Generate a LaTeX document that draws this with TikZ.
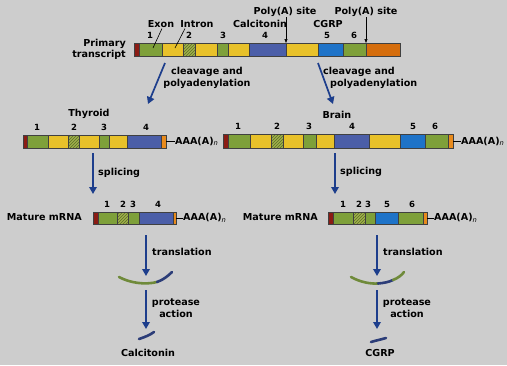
\documentclass[tikz,border=0pt]{standalone}
\usepackage{fontspec}
\setmainfont{DejaVu Sans}
\usetikzlibrary{arrows.meta,patterns}
\definecolor{bg}{RGB}{205,205,205}
\definecolor{capred}{RGB}{139,28,20}
\definecolor{exgreen}{RGB}{126,160,58}
\definecolor{hgreen}{RGB}{160,176,74}
\definecolor{hline}{RGB}{90,110,40}
\definecolor{yel}{RGB}{232,193,42}
\definecolor{slate}{RGB}{75,94,168}
\definecolor{bblue}{RGB}{30,115,200}
\definecolor{tailor}{RGB}{213,109,12}
\definecolor{capor}{RGB}{232,138,28}
\definecolor{navy}{RGB}{29,62,140}
\definecolor{pepgreen}{RGB}{111,138,58}
\definecolor{pepnavy}{RGB}{44,61,120}
\newcommand\myseg[3]{\path[#3] (#1,\ytop) rectangle (#2,\ybot);}
\begin{document}
\begin{tikzpicture}[x=1pt,y=-1pt,
  every node/.style={font=\bfseries\fontsize{9.6}{11.5}\selectfont, inner sep=0pt},
  num/.style={font=\bfseries\fontsize{8.5}{10}\selectfont},
  capR/.style={fill=capred},
  exG/.style={fill=exgreen},
  exH/.style={fill=hgreen, postaction={pattern=north east lines, pattern color=hline}},
  intY/.style={fill=yel},
  exS/.style={fill=slate},
  exB/.style={fill=bblue},
  capO/.style={fill=capor},
  tailO/.style={fill=tailor},
  segline/.style={draw=black!75, line width=0.5pt},
  navyarrow/.style={draw=navy, line width=1.7pt, -{Triangle[width=7.5pt,length=7pt]}},
  thinarrow/.style={draw=black, line width=0.6pt, -{Triangle[width=3pt,length=4pt]}},
  pointer/.style={draw=black, line width=0.6pt},
  pepG/.style={draw=pepgreen, line width=2.6pt, line cap=round},
  pepN/.style={draw=pepnavy, line width=2.6pt, line cap=round},
  polytail/.style={draw=black, line width=0.6pt}]
\fill[bg] (0,0) rectangle (507,365);
\useasboundingbox (0,0) rectangle (507,365);

% ---------- Primary transcript ----------
\def\ytop{43}\def\ybot{56}
\myseg{134}{139}{capR}\myseg{139}{162}{exG}\myseg{162}{183}{intY}
\myseg{183}{195}{exH}\myseg{195}{217}{intY}\myseg{217}{228}{exG}
\myseg{228}{249}{intY}\myseg{249}{286}{exS}\myseg{286}{318}{intY}
\myseg{318}{343}{exB}\myseg{343}{366}{exG}\myseg{366}{400}{tailO}
\foreach \x in {139,162,183,195,217,228,249,286,318,343,366}
  \draw[segline] (\x,\ytop) -- (\x,\ybot);
\draw[segline] (134,\ytop) rectangle (400,\ybot);

\node[anchor=east, align=right] (prim) at (126,49.5) {Primary\\transcript};
\node (exon) at (161,24) {Exon};
\node (intron) at (197,24) {Intron};
\node[num] (p1) at (150,35) {1};
\node[num] (p2) at (189,35) {2};
\node[num] (p3) at (223,35) {3};
\node[num] (p4) at (265,35) {4};
\node[num] (p5) at (327,35) {5};
\node[num] (p6) at (354,35) {6};
\node (calc) at (260,24) {Calcitonin};
\node (cgrp) at (328,24) {CGRP};
\node (pa1) at (285,12) {Poly(A) site};
\node (pa2) at (366,12) {Poly(A) site};
\coordinate (exA) at (162,28.5); \coordinate (exB) at (153,48);
\coordinate (inA) at (185,28.5); \coordinate (inB) at (175,48);
\draw[pointer] (exA) -- (exB);
\draw[pointer] (inA) -- (inB);
\coordinate (pa1a) at (286,17); \coordinate (pa1b) at (286,43);
\coordinate (pa2a) at (366,17); \coordinate (pa2b) at (366,43);
\draw[thinarrow] (pa1a) -- (pa1b);
\draw[thinarrow] (pa2a) -- (pa2b);

% cleavage arrows
\coordinate (clLa) at (165,63); \coordinate (clLb) at (148,104);
\coordinate (clRa) at (318,63); \coordinate (clRb) at (333,104);
\draw[navyarrow] (clLa) -- (clLb);
\draw[navyarrow] (clRa) -- (clRb);
\node[align=center] (clL) at (207,78) {cleavage and\\polyadenylation};
\node[align=left, anchor=west] (clR) at (323,78) {cleavage and\\\hspace*{7pt}polyadenylation};

% ---------- Thyroid ----------
\node (thy) at (89,114) {Thyroid};
\def\ytop{135}\def\ybot{148}
\myseg{23}{27}{capR}\myseg{27}{48}{exG}\myseg{48}{68}{intY}
\myseg{68}{79}{exH}\myseg{79}{99}{intY}\myseg{99}{109}{exG}
\myseg{109}{127}{intY}\myseg{127}{161}{exS}\myseg{161}{166}{capO}
\foreach \x in {27,48,68,79,99,109,127,161}
  \draw[segline] (\x,\ytop) -- (\x,\ybot);
\draw[segline] (23,\ytop) rectangle (166,\ybot);
\node[num] (t1) at (37,127) {1};
\node[num] (t2) at (74,127) {2};
\node[num] (t3) at (104,127) {3};
\node[num] (t4) at (146,127) {4};
\node[anchor=west] (tA) at (175,141.5) {AAA(A)$_{\mathbf{\mathit{n}}}$};
\coordinate (tAe) at (166,141.5);
\draw[polytail] (tAe) -- (tA.west);

% ---------- Brain ----------
\node (brain) at (337,115) {Brain};
\def\ytop{134.5}\def\ybot{148}
\myseg{223}{228}{capR}\myseg{228}{250}{exG}\myseg{250}{271}{intY}
\myseg{271}{283}{exH}\myseg{283}{303}{intY}\myseg{303}{316}{exG}
\myseg{316}{334}{intY}\myseg{334}{369}{exS}\myseg{369}{400}{intY}
\myseg{400}{425}{exB}\myseg{425}{448}{exG}\myseg{448}{453}{capO}
\foreach \x in {228,250,271,283,303,316,334,369,400,425,448}
  \draw[segline] (\x,\ytop) -- (\x,\ybot);
\draw[segline] (223,\ytop) rectangle (453,\ybot);
\node[num] (b1) at (238,126) {1};
\node[num] (b2) at (277,126) {2};
\node[num] (b3) at (309,126) {3};
\node[num] (b4) at (352,126) {4};
\node[num] (b5) at (413,126) {5};
\node[num] (b6) at (435,126) {6};
\node[anchor=west] (bA) at (461,141.5) {AAA(A)$_{\mathbf{\mathit{n}}}$};
\coordinate (bAe) at (453,141.5);
\draw[polytail] (bAe) -- (bA.west);

% splicing arrows
\coordinate (spLa) at (93,153); \coordinate (spLb) at (93,194);
\coordinate (spRa) at (335,153); \coordinate (spRb) at (335,194);
\draw[navyarrow] (spLa) -- (spLb);
\draw[navyarrow] (spRa) -- (spRb);
\node[anchor=west] (spL) at (98,173) {splicing};
\node[anchor=west] (spR) at (340,172) {splicing};

% ---------- Mature mRNA left ----------
\node[anchor=east] (mL) at (82,217) {Mature mRNA};
\def\ytop{212}\def\ybot{224}
\myseg{93}{98}{capR}\myseg{98}{117}{exG}\myseg{117}{128}{exH}
\myseg{128}{139}{exG}\myseg{139}{173}{exS}\myseg{173}{176}{capO}
\foreach \x in {98,117,128,139,173}
  \draw[segline] (\x,\ytop) -- (\x,\ybot);
\draw[segline] (93,\ytop) rectangle (176,\ybot);
\node[num] (m1) at (107,204) {1};
\node[num] (m2) at (123,204) {2};
\node[num] (m3) at (133,204) {3};
\node[num] (m4) at (158,204) {4};
\node[anchor=west] (mLA) at (183,218) {AAA(A)$_{\mathbf{\mathit{n}}}$};
\coordinate (mLAe) at (176,218);
\draw[polytail] (mLAe) -- (mLA.west);

% ---------- Mature mRNA right ----------
\node[anchor=east] (mR) at (318,217) {Mature mRNA};
\myseg{328}{333}{capR}\myseg{333}{353}{exG}\myseg{353}{365}{exH}
\myseg{365}{375}{exG}\myseg{375}{398}{exB}\myseg{398}{423}{exG}
\myseg{423}{427}{capO}
\foreach \x in {333,353,365,375,398,423}
  \draw[segline] (\x,\ytop) -- (\x,\ybot);
\draw[segline] (328,\ytop) rectangle (427,\ybot);
\node[num] (r1) at (343,204) {1};
\node[num] (r2) at (359,204) {2};
\node[num] (r3) at (368,204) {3};
\node[num] (r5) at (387,204) {5};
\node[num] (r6) at (412,204) {6};
\node[anchor=west] (mRA) at (434,218) {AAA(A)$_{\mathbf{\mathit{n}}}$};
\coordinate (mRAe) at (427,218);
\draw[polytail] (mRAe) -- (mRA.west);

% translation arrows
\coordinate (trLa) at (146,235); \coordinate (trLb) at (146,276);
\coordinate (trRa) at (377,235); \coordinate (trRb) at (377,276);
\draw[navyarrow] (trLa) -- (trLb);
\draw[navyarrow] (trRa) -- (trRb);
\node[anchor=west] (trL) at (152,252) {translation};
\node[anchor=west] (trR) at (383,252) {translation};

% peptides
\draw[pepG] (119,277) .. controls (130,283) and (145,285) .. (157,282);
\draw[pepN] (157,282) .. controls (163,280) and (168,276) .. (172,272);
\draw[pepG] (351,277) .. controls (360,282) and (370,284) .. (378,283.5);
\draw[pepN] (378,283.5) .. controls (384,283) and (389,282) .. (393,280);
\draw[pepG] (393,280) .. controls (398,278) and (402,275) .. (404,272);

% protease arrows
\coordinate (prLa) at (146,290); \coordinate (prLb) at (146,329);
\coordinate (prRa) at (377,290); \coordinate (prRb) at (377,329);
\draw[navyarrow] (prLa) -- (prLb);
\draw[navyarrow] (prRa) -- (prRb);
\node[align=center] (prL) at (176,308) {protease\\action};
\node[align=center] (prR) at (407,308) {protease\\action};

% products
\draw[pepN] (139,339) .. controls (145,337) and (150,335) .. (154,332);
\draw[pepN] (371,342) .. controls (376,340.5) and (381,339.5) .. (386,338);
\node (calcP) at (148,353) {Calcitonin};
\node (cgrpP) at (380,353) {CGRP};
\end{tikzpicture}
\end{document}
